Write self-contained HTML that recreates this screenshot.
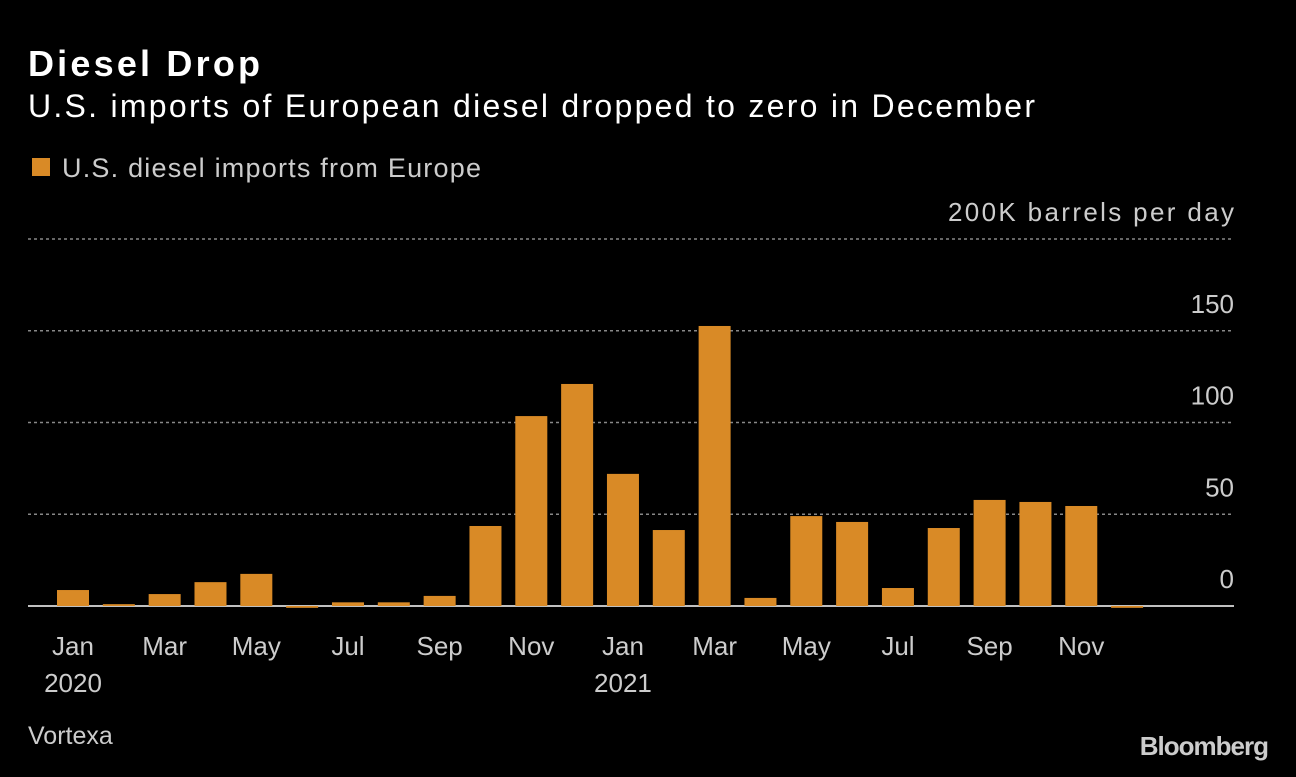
<!DOCTYPE html>
<html><head><meta charset="utf-8"><style>
body{margin:0;background:#000;width:1296px;height:772px;overflow:hidden;font-family:"Liberation Sans",sans-serif;color:#fff}
svg text{font-family:"Liberation Sans",sans-serif}
</style></head><body>
<svg width="1296" height="772">
<text x="28" y="76" font-size="36" font-weight="bold" fill="#fff" textLength="232" lengthAdjust="spacing">Diesel Drop</text>
<text x="28" y="117" font-size="32" fill="#fff" textLength="1007" lengthAdjust="spacing">U.S. imports of European diesel dropped to zero in December</text>
<rect x="32" y="158" width="18" height="18" fill="#d98a26"/>
<text x="62" y="177" font-size="27" fill="#ccc" textLength="419" lengthAdjust="spacing">U.S. diesel imports from Europe</text>
<g id="grid"></g><g id="bars"></g><g id="xlabels"></g>
<text x="28" y="744" font-size="25" fill="#ccc">Vortexa</text>
<text x="1268" y="755" font-size="26" font-weight="bold" fill="#ccc" text-anchor="end" letter-spacing="-1">Bloomberg</text>
</svg>
<script>
const months=["Jan","Feb","Mar","Apr","May","Jun","Jul","Aug","Sep","Oct","Nov","Dec","Jan","Feb","Mar","Apr","May","Jun","Jul","Aug","Sep","Oct","Nov","Dec"];
const values=[8.7,1,6.5,13,17.5,-1,2,2,5.5,43.6,103.5,121,72,41.4,152.6,4.4,49,45.8,9.8,42.5,57.8,56.7,54.5,-1];
const yTicks=[0,50,100,150,200];
const yTickLabels=["0","50","100","150","200K barrels per day"];
const NS="http://www.w3.org/2000/svg";
const y0=606,pxPer=1.835,x0=73,step=45.83,bw=32;
const yS=v=>y0-v*pxPer, xS=i=>x0+i*step;
function mk(t,a,p){const e=document.createElementNS(NS,t);for(const k in a)e.setAttribute(k,a[k]);p.appendChild(e);return e;}
const g=document.getElementById('grid');
yTicks.forEach((t,i)=>{
 if(t!==0){const l=mk('line',{x1:28,x2:1234,y1:yS(t),y2:yS(t),stroke:'#888','stroke-width':1.5,'stroke-dasharray':'3,3'},g);
 
 }
 const attrs={x:1234,y:yS(t)-18,'font-size':26,fill:'#ccc','text-anchor':'end'};
 if(t===200){attrs.textLength=286;attrs.lengthAdjust='spacing';}
 const tx=mk('text',attrs,g);
 tx.textContent=yTickLabels[i];
 
 
});
const b=document.getElementById('bars');
values.forEach((v,i)=>{
 const top=Math.min(yS(v),y0),h=Math.abs(yS(v)-y0);
 const r=mk('rect',{x:xS(i)-bw/2,y:top,width:bw,height:Math.max(h,1),fill:'#d98a26'},b);
 
 
});
const ax=mk('line',{x1:28,x2:1234,y1:y0,y2:y0,stroke:'#fff','stroke-width':1.5},g);


const xl=document.getElementById('xlabels');
months.forEach((m,i)=>{
 if(i%2)return;
 const t=mk('text',{x:xS(i),y:655,'font-size':26,fill:'#ccc','text-anchor':'middle'},xl);
 t.textContent=m;
 
 
});
[[0,"2020"],[12,"2021"]].forEach(([i,y])=>{
 const t=mk('text',{x:xS(i),y:692,'font-size':26,fill:'#ccc','text-anchor':'middle'},xl);
 t.textContent=y;
 
 
});
</script>
</body></html>
